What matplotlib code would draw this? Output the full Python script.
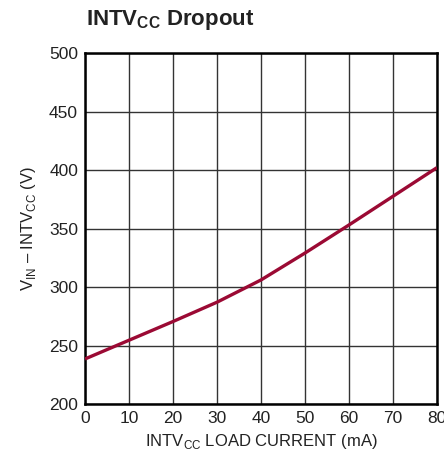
import matplotlib
matplotlib.use("Agg")
import matplotlib.pyplot as plt

plt.rcParams['font.family'] = ['Liberation Sans', 'DejaVu Sans']
plt.rcParams['mathtext.fontset'] = 'custom'
plt.rcParams['mathtext.rm'] = 'Liberation Sans'
plt.rcParams['mathtext.bf'] = 'Liberation Sans:bold'

# data
load_current = [0, 10, 20, 30, 40, 50, 60, 70, 80]
dropout = [238.5, 254.5, 270.5, 287, 306, 329, 353, 377.5, 402]

x_ticks = [0, 10, 20, 30, 40, 50, 60, 70, 80]
y_ticks = [200, 250, 300, 350, 400, 450, 500]

fig = plt.figure(figsize=(4.44, 4.63), dpi=100)
ax = fig.add_axes([0.1914, 0.1274, 0.7926, 0.7581])

ax.plot(load_current, dropout, color='#9b0a34', lw=2.4, solid_capstyle='butt',
        solid_joinstyle='round', zorder=3)

ax.set_xlim(0, 80)
ax.set_ylim(200, 500)
ax.set_xticks(x_ticks)
ax.set_yticks(y_ticks)
ax.tick_params(length=0, labelsize=12.5, pad=5, colors='#222222')
ax.grid(True, color='#333333', lw=1.0)
for s in ax.spines.values():
    s.set_linewidth(1.8)
    s.set_color('black')

ax.set_xlabel('INTV$_{\\mathrm{CC}}$ LOAD CURRENT (mA)', fontsize=12, color='#222222', labelpad=4)
ax.set_ylabel('V$_{\\mathrm{IN}}$ – INTV$_{\\mathrm{CC}}$ (V)', fontsize=12, color='#222222', labelpad=8)

fig.text(0.194, 0.957, 'INTV$_{\\mathbf{CC}}$ Dropout', fontsize=16, fontweight='bold',
         ha='left', va='center', color='#222222')

fig.savefig('out.png', dpi=100)
